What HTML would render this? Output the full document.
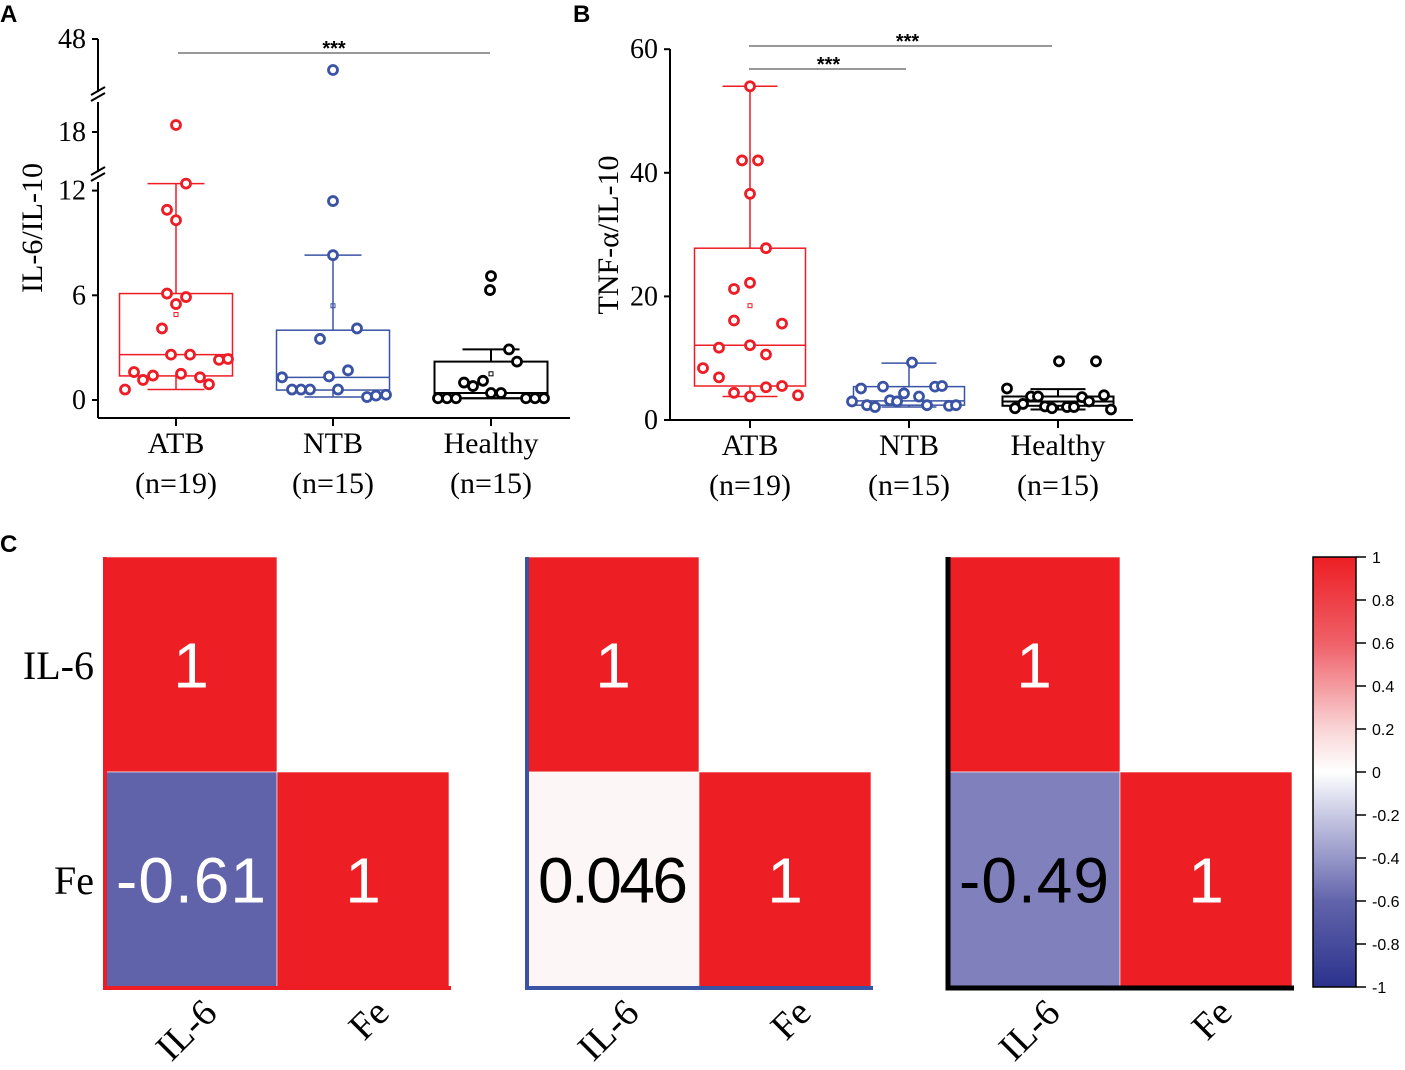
<!DOCTYPE html>
<html><head><meta charset="utf-8"><style>
body{margin:0;background:#fff}
svg{display:block}
.serif{font-family:"Liberation Serif",serif}
.sans{font-family:"Liberation Sans",sans-serif}
</style></head><body>
<svg id="fig" width="1405" height="1070" viewBox="0 0 1405 1070" xmlns="http://www.w3.org/2000/svg"></svg>
<script>
// ---------- data ----------
const groups = ["ATB","NTB","Healthy"];
const groupN = ["(n=19)","(n=15)","(n=15)"];
const colors = ["#ee1c25","#3a53a4","#000000"];
// Panel A (IL-6/IL-10)
const aTicks = [0,6,12,18,48];
const aAtbVals = [19,12.4,10.9,10.3,6.1,5.9,5.5,4.1,2.6,2.6,2.3,2.35,1.6,1.15,1.4,1.5,1.3,0.9,0.6];
const aAtbJit = [0,10,-9,0,-9,10,0,-14,-5,14,43,52,-42,-33,-23,5,24,33,-51];
const aNtbVals = [44,11.4,8.3,4.1,3.5,1.7,1.35,1.3,0.6,0.6,0.6,0.6,0.17,0.25,0.3];
const aNtbJit = [0,0,0,24,-13,15,-4,-51,-41,-32,-23,5,34,43,53];
const aHeaVals = [7.1,6.3,2.9,2.2,1.0,0.8,1.1,0.4,0.4,0.1,0.1,0.1,0.1,0.1,0.1];
const aHeaJit = [0,-1,18,26,-27,-18,-8,0,10,-53,-44,-35,35,44,53];
const aBoxQ1 = [1.38,0.57,0.1];
const aBoxMed = [2.6,1.3,0.4];
const aBoxQ3 = [6.1,4.0,2.2];
const aWhLo = [0.6,0.17,0.1];
const aWhHi = [12.4,8.3,2.9];
const aMean = [4.9,5.4,1.5];
// Panel B (TNF-a/IL-10)
const bTicks = [0,20,40,60];
const bAtbVals = [54,42,42,36.6,27.8,22.2,21.2,16.1,15.6,12.1,11.7,10.6,8.4,6.9,5.3,5.5,4.4,3.8,4.0];
const bAtbJit = [0,-8,8,0,16,0,-16,-16,32,0,-31,16,-47,-31,16,32,-16,0,48];
const bNtbVals = [9.3,5.1,5.4,5.4,5.5,4.3,3.8,3.2,3.0,3.0,2.4,2.1,2.4,2.3,2.4];
const bNtbJit = [3,-48,-26,26,33,-5,10,-19,-12,-57,-42,-34,18,40,47];
const bHeaVals = [9.5,9.5,5.1,3.8,3.8,4.0,3.7,3.0,2.6,1.9,2.2,1.9,2.1,2.1,1.7];
const bHeaJit = [1,38,-51,-27,-20,46,24,31,-35,-43,-13,-6,9,16,53];
const bBoxQ1 = [5.5,2.4,2.3];
const bBoxMed = [12.1,3.1,3.0];
const bBoxQ3 = [27.8,5.4,3.8];
const bWhLo = [3.8,2.1,1.7];
const bWhHi = [54,9.2,5.0];
const bMean = [18.5,null,null];
// Panel C correlation
const corrVars = ["IL-6","Fe"];
const corrAtb = [1,-0.61,1];
const corrNtb = [1,0.046,1];
const corrHea = [1,-0.49,1];
const cbTicks = [1,0.8,0.6,0.4,0.2,0,-0.2,-0.4,-0.6,-0.8,-1];

// ---------- helpers ----------
const NS="http://www.w3.org/2000/svg";
const svg=document.getElementById('fig');
function mk(tag,attrs,parent,text){const e=document.createElementNS(NS,tag);for(const k in attrs)e.setAttribute(k,attrs[k]);if(text!==undefined)e.textContent=text;(parent||svg).appendChild(e);return e;}

function yA(v){ if(v<=13) return 400-v*17.45; if(v<=30) return 132-(v-18)*7; return 39+(48-v)*7.75; }
function yB(v){ return 420-v*6.18; }

// ---------- Panel labels ----------
let t=mk('text',{x:0,y:22,'font-size':24,'font-weight':'bold',class:'sans'},svg,'A');

t=mk('text',{x:573,y:22,'font-size':24,'font-weight':'bold',class:'sans'},svg,'B');

t=mk('text',{x:0,y:552,'font-size':24,'font-weight':'bold',class:'sans'},svg,'C');


function boxPanel(cfg){
  const g=mk('g',{});
  
  
  const ax=mk('g',{stroke:'#000','stroke-width':2,fill:'none'},g);
  
  
  cfg.axisSegs.forEach(s=>mk('line',{x1:cfg.x0,x2:cfg.x0,y1:s[0],y2:s[1]},ax));
  (cfg.breaks||[]).forEach(b=>{mk('line',{x1:cfg.x0-7,y1:b+3,x2:cfg.x0+7,y2:b-5},ax);mk('line',{x1:cfg.x0-7,y1:b+9,x2:cfg.x0+7,y2:b+1},ax);});
  mk('line',{x1:cfg.x0,x2:cfg.x1,y1:cfg.yBase,y2:cfg.yBase},ax);
  cfg.ticks.forEach(v=>{const y=cfg.ys(v);mk('line',{x1:cfg.x0-6,x2:cfg.x0,y1:y,y2:y},ax);
    const tl=mk('text',{x:cfg.x0-12,y:y+9,'text-anchor':'end','font-size':28,class:'serif',fill:'#000',stroke:'none'},g,String(v));
    });
  const yl=mk('text',{transform:`translate(${cfg.ylx},${cfg.yly}) rotate(-90)`,'text-anchor':'middle','font-size':30,class:'serif'},g,cfg.ytitle);
  
  cfg.cx.forEach((cx,i)=>{
    mk('line',{x1:cx,x2:cx,y1:cfg.yBase,y2:cfg.yBase+8,stroke:'#000','stroke-width':2},g);
    const l1=mk('text',{x:cx,y:cfg.yBase+35,'text-anchor':'middle','font-size':30,class:'serif'},g,groups[i]);
    
    const l2=mk('text',{x:cx,y:cfg.yBase+75,'text-anchor':'middle','font-size':30,class:'serif'},g,groupN[i]);
    
    const c=colors[i];
    const bg=mk('g',{stroke:c,'stroke-width':i==2?2:1.5,fill:'none'},g);
    
    
    const hw=cfg.boxW/2, cw=cfg.capW/2;
    mk('rect',{x:cx-hw,y:cfg.ys(cfg.q3[i]),width:cfg.boxW,height:cfg.ys(cfg.q1[i])-cfg.ys(cfg.q3[i])},bg);
    mk('line',{x1:cx-hw,x2:cx+hw,y1:cfg.ys(cfg.med[i]),y2:cfg.ys(cfg.med[i])},bg);
    mk('line',{x1:cx,x2:cx,y1:cfg.ys(cfg.q3[i]),y2:cfg.ys(cfg.hi[i])},bg);
    mk('line',{x1:cx,x2:cx,y1:cfg.ys(cfg.q1[i]),y2:cfg.ys(cfg.lo[i])},bg);
    mk('line',{x1:cx-cw,x2:cx+cw,y1:cfg.ys(cfg.hi[i]),y2:cfg.ys(cfg.hi[i])},bg);
    mk('line',{x1:cx-cw,x2:cx+cw,y1:cfg.ys(cfg.lo[i]),y2:cfg.ys(cfg.lo[i])},bg);
    if(cfg.mean[i]!=null) mk('rect',{x:cx-2,y:cfg.ys(cfg.mean[i])-2,width:4,height:4,'stroke-width':1},bg);
    const pg=mk('g',{stroke:c,'stroke-width':2.8,fill:'#fff'},g);
    
    
    cfg.vals[i].forEach((v,j)=>{const p=mk('circle',{cx:cx+cfg.jit[i][j],cy:cfg.ys(v),r:4.5},pg);
      
      });
  });
  cfg.sig.forEach(s=>{
    mk('line',{x1:s[0],x2:s[1],y1:s[2],y2:s[2],stroke:'#777','stroke-width':1.5},g);
    const st=mk('text',{x:(s[0]+s[1])/2+s[3],y:s[2]+2,'text-anchor':'middle','font-size':20,'font-weight':'bold',class:'sans'},g,'***');
    
  });
}
boxPanel({name:'panel-a-boxplot',x0:98,x1:570,yBase:418,ys:yA,ticks:aTicks,axisSegs:[[39,92],[102,172],[182,418]],breaks:[92,172],
  ylx:42,yly:228,ytitle:'IL-6/IL-10',cx:[176,333,491],boxW:113,capW:57,
  q1:aBoxQ1,med:aBoxMed,q3:aBoxQ3,lo:aWhLo,hi:aWhHi,mean:aMean,
  vals:[aAtbVals,aNtbVals,aHeaVals],jit:[aAtbJit,aNtbJit,aHeaJit],sig:[[178,490,53,0]]});
boxPanel({name:'panel-b-boxplot',x0:670,x1:1133,yBase:420,ys:yB,ticks:bTicks,axisSegs:[[49,420]],
  ylx:618,yly:235,ytitle:'TNF-α/IL-10',cx:[750,909,1058],boxW:111,capW:55,
  q1:bBoxQ1,med:bBoxMed,q3:bBoxQ3,lo:bWhLo,hi:bWhHi,mean:bMean,
  vals:[bAtbVals,bNtbVals,bHeaVals],jit:[bAtbJit,bNtbJit,bHeaJit],sig:[[749,1052,46,7],[749,906,69,1]]});

// ---------- Panel C ----------
const stops=[[-1,[43,50,140]],[-0.6,[98,100,171]],[-0.49,[128,128,189]],[-0.2,[200,201,227]],[0,[255,255,255]],[0.05,[253,245,245]],[0.2,[249,212,214]],[0.6,[239,96,104]],[1,[237,31,36]]];
function cmap(v){for(let i=0;i<stops.length-1;i++){const a=stops[i],b=stops[i+1];if(v>=a[0]&&v<=b[0]){const t=(v-a[0])/(b[0]-a[0]);const c=a[1].map((x,k)=>Math.round(x+(b[1][k]-x)*t));return `rgb(${c})`;}}return 'rgb(237,31,36)';}
function heat(x0,vals,axisColor,axisW,name){
  const g=mk('g',{});
  
  
  const cw=172,ch=215,y0=557;
  const cells=[[0,0],[0,1],[1,1]]; // [col,row]
  cells.forEach((cr,k)=>{
    const x=x0+cr[0]*cw,y=y0+cr[1]*ch,v=vals[k];
    const r=mk('rect',{x:x,y:y,width:cw,height:ch,fill:cmap(v),stroke:'#fff','stroke-width':0.6},g);
    
    
    const light=(v>0.5||v<-0.55);
    const tx=mk('text',{x:x+cw/2,y:y+ch/2+23,'text-anchor':'middle','font-size':64,'textLength':String(v).length>3?(String(v).length>4?150:150):undefined,class:'sans',fill:light?'#fff':'#000'},g,String(v));
    if(String(v).length<=3) tx.removeAttribute('textLength');
    
    
  });
  mk('line',{x1:x0,x2:x0,y1:y0,y2:y0+2*ch+2,stroke:axisColor,'stroke-width':axisW},g);
  mk('line',{x1:x0-axisW/2,x2:x0+2*cw+2,y1:y0+2*ch+1,y2:y0+2*ch+1,stroke:axisColor,'stroke-width':axisW},g);
  corrVars.forEach((nm,i)=>{
    const cx=x0+cw*i+cw/2;
    const lt=mk('text',{transform:`translate(${cx+28},${y0+2*ch+28}) rotate(-45)`,'text-anchor':'end','font-size':38,class:'serif'},g,nm);
    
    
  });
}
heat(105,corrAtb,'#ee1c25',4,'heatmap-atb');
heat(527,corrNtb,'#3a53a4',4,'heatmap-ntb');
heat(948,corrHea,'#000',5,'heatmap-healthy');
corrVars.forEach((nm,i)=>{
  const rl=mk('text',{x:94,y:557+215*i+122,'text-anchor':'end','font-size':40,class:'serif'},svg,nm);
  
  
});
// colorbar
const defs=mk('defs',{});
const lg=mk('linearGradient',{id:'cb',x1:0,y1:0,x2:0,y2:1},defs);
for(let k=0;k<=40;k++){const v=1-k/20;mk('stop',{offset:(k/40),'stop-color':cmap(v)},lg);}
const cbG=mk('g',{});


const cbTop=557,cbBot=987;
mk('rect',{x:1313,y:cbTop,width:43,height:cbBot-cbTop,fill:'url(#cb)',stroke:'#000','stroke-width':1.5},cbG);
cbTicks.forEach(v=>{const y=cbTop+(1-v)/2*(cbBot-cbTop);
  mk('line',{x1:1356,x2:1366,y1:y,y2:y,stroke:'#000','stroke-width':1.5},cbG);
  const tl=mk('text',{x:1372,y:y+6,'font-size':16,class:'sans'},cbG,String(v));
  
  
});
</script>
</body></html>
